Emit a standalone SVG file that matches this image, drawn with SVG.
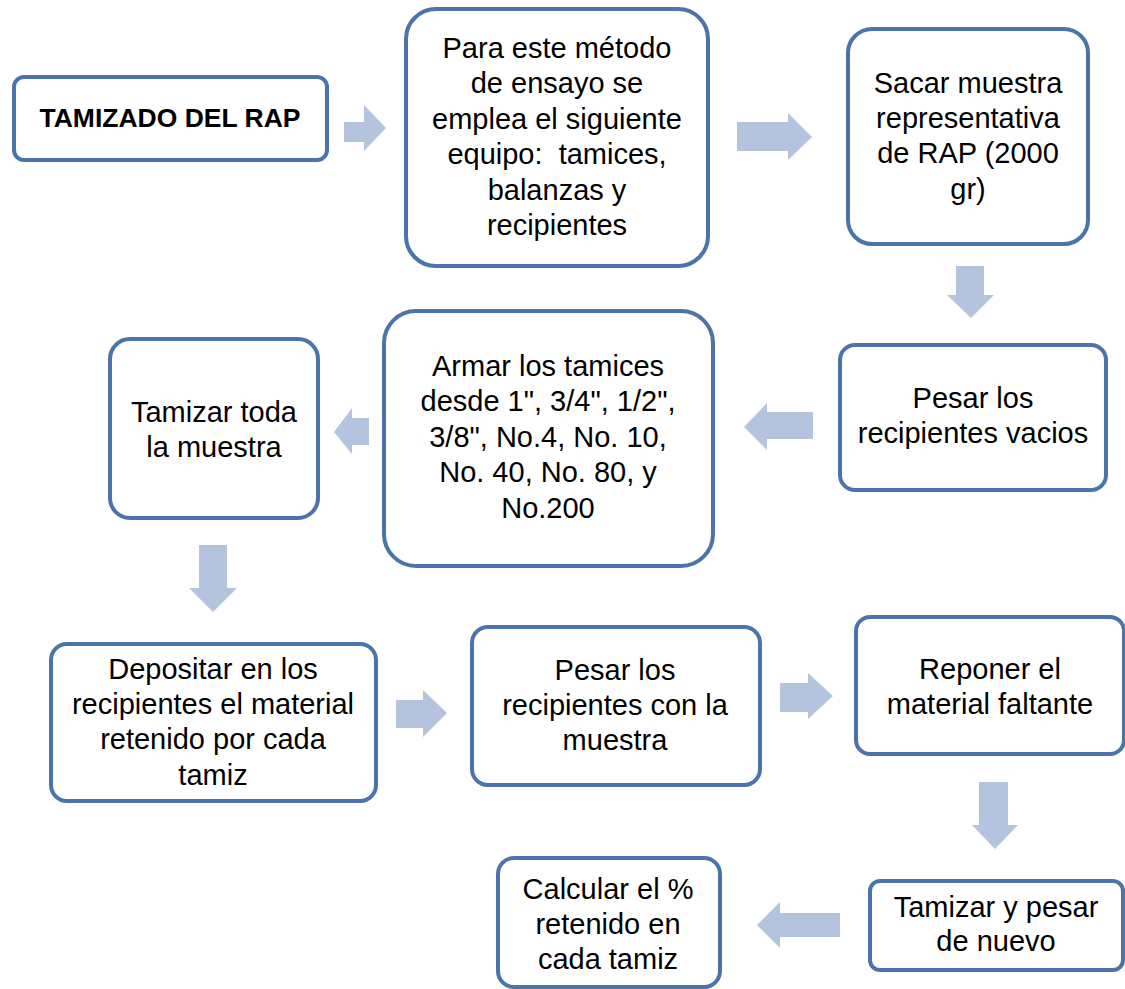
<svg xmlns="http://www.w3.org/2000/svg" width="1125" height="989" viewBox="0 0 1125 989">
<style>
.box{fill:#fff;stroke:#4A74AA;stroke-width:4}
.t{font-family:"Liberation Sans",Arial,sans-serif;font-size:29px;fill:#000;text-anchor:middle}
.b{font-weight:bold;font-size:26.5px}
.arr{fill:#B4C4DF}
</style>
<rect width="1125" height="989" fill="#fff"/>
<g id="connectors">
<polygon class="arr" points="344,122 364,122 364,105 386,128 364,151 364,142 344,142"/>
<polygon class="arr" points="737,122 788,122 788,113 812,137 788,160 788,151 737,151"/>
<polygon class="arr" points="956,266 984,266 984,295 994,295 971,318 947,295 956,295"/>
<polygon class="arr" points="813,412 767,412 767,403 744,427 767,450 767,439 813,439"/>
<polygon class="arr" points="369,418 352,418 352,408 334,432 352,454 352,445 369,445"/>
<polygon class="arr" points="199,545 227,545 227,588 237,588 213,612 189,588 199,588"/>
<polygon class="arr" points="396,700 423,700 423,690 447,713 423,737 423,728 396,728"/>
<polygon class="arr" points="780,683 808,683 808,673 833,696 808,719 808,712 780,712"/>
<polygon class="arr" points="979,782 1008,782 1008,825 1018,825 995,849 972,825 979,825"/>
<polygon class="arr" points="840,913 780,913 780,902 757,925 780,948 780,937 840,937"/>
</g>
<g id="n1"><rect class="box" x="14" y="77" width="313" height="83" rx="10"/>
<text class="t b" x="170" y="127">TAMIZADO DEL RAP</text></g>
<g id="n2"><rect class="box" x="406" y="9" width="302" height="257" rx="30"/>
<text class="t" x="557" y="58" xml:space="preserve">Para este método<tspan x="557" dy="35.4">de ensayo se</tspan><tspan x="557" dy="35.4">emplea el siguiente</tspan><tspan x="557" dy="35.4">equipo:  tamices,</tspan><tspan x="557" dy="35.4">balanzas y</tspan><tspan x="557" dy="35.4">recipientes</tspan></text></g>
<g id="n3"><rect class="box" x="848" y="29" width="240" height="215" rx="24"/>
<text class="t" x="968" y="92.5">Sacar muestra<tspan x="968" dy="35.4">representativa</tspan><tspan x="968" dy="35.4">de RAP (2000</tspan><tspan x="968" dy="35.4">gr)</tspan></text></g>
<g id="n4"><rect class="box" x="840" y="345" width="266" height="145" rx="15"/>
<text class="t" x="973" y="407.5">Pesar los<tspan x="973" dy="35.4">recipientes vacios</tspan></text></g>
<g id="n5"><rect class="box" x="384" y="311" width="329" height="255" rx="32"/>
<text class="t" x="548" y="376">Armar los tamices<tspan x="548" dy="35.4">desde 1", 3/4", 1/2",</tspan><tspan x="548" dy="35.4">3/8", No.4, No. 10,</tspan><tspan x="548" dy="35.4">No. 40, No. 80, y</tspan><tspan x="548" dy="35.4">No.200</tspan></text></g>
<g id="n6"><rect class="box" x="110" y="339" width="208" height="179" rx="20"/>
<text class="t" x="214" y="421.5">Tamizar toda<tspan x="214" dy="35.4">la muestra</tspan></text></g>
<g id="n7"><rect class="box" x="51" y="644" width="325" height="157" rx="16"/>
<text class="t" x="213" y="678.5">Depositar en los<tspan x="213" dy="35.4">recipientes el material</tspan><tspan x="213" dy="35.4">retenido por cada</tspan><tspan x="213" dy="35.4">tamiz</tspan></text></g>
<g id="n8"><rect class="box" x="472" y="627" width="288" height="158" rx="16"/>
<text class="t" x="615" y="679.5">Pesar los<tspan x="615" dy="35.4">recipientes con la</tspan><tspan x="615" dy="35.4">muestra</tspan></text></g>
<g id="n9"><rect class="box" x="856" y="617" width="268" height="137" rx="14"/>
<text class="t" x="990" y="678.5">Reponer el<tspan x="990" dy="35.4">material faltante</tspan></text></g>
<g id="n10"><rect class="box" x="870" y="881" width="253" height="89" rx="10"/>
<text class="t" x="996" y="917">Tamizar y pesar<tspan x="996" dy="34">de nuevo</tspan></text></g>
<g id="n11"><rect class="box" x="498" y="858" width="222" height="129" rx="16"/>
<text class="t" x="608" y="899">Calcular el %<tspan x="608" dy="35">retenido en</tspan><tspan x="608" dy="35">cada tamiz</tspan></text></g>
</svg>
